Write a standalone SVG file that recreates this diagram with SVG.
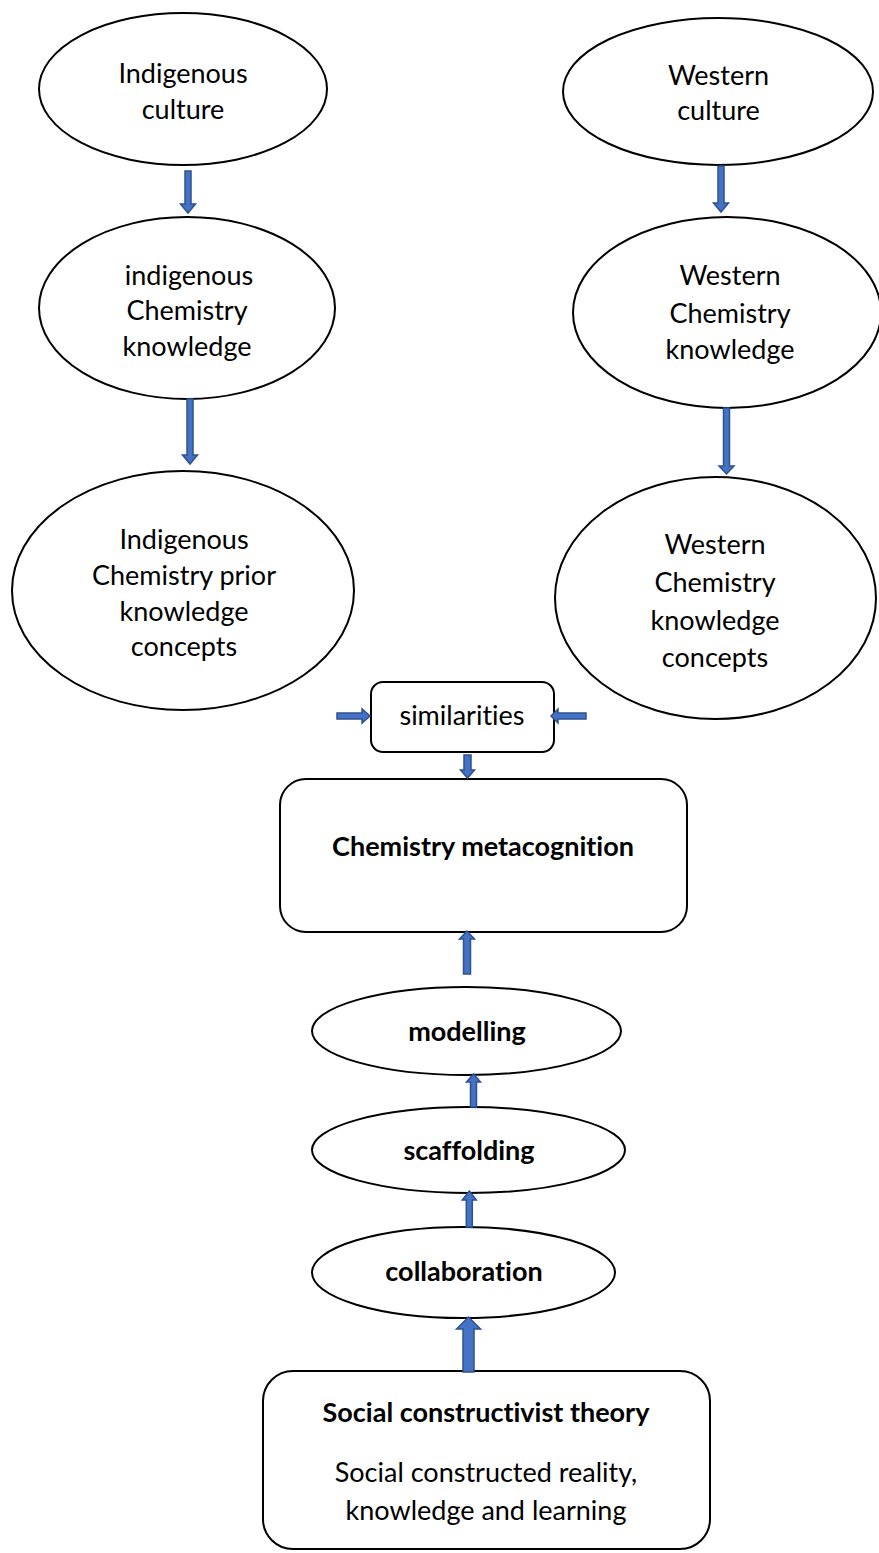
<svg xmlns="http://www.w3.org/2000/svg" width="879" height="1553" viewBox="0 0 879 1553">
<style>
.n{fill:#fff;stroke:#000;stroke-width:2}
.t{font-family:Lato,"Liberation Sans",sans-serif;font-size:27px;fill:#000;text-anchor:middle;font-variant-ligatures:none;font-feature-settings:"liga" 0,"dlig" 0}
.b{font-weight:bold}
.a{fill:#4472C4;stroke:#2F528F;stroke-width:1.5;stroke-linejoin:miter}
</style>
<rect width="879" height="1553" fill="#fff"/>
<g id="indigenous-culture"><ellipse class="n" cx="183" cy="89" rx="144" ry="76"/><text class="t" x="183" y="82.5">Indigenous</text><text class="t" x="183" y="118.5">culture</text></g>
<g id="western-culture"><ellipse class="n" cx="718" cy="91.5" rx="155" ry="73.5"/><text class="t" x="718.5" y="85">Western</text><text class="t" x="718.5" y="120">culture</text></g>
<g id="indigenous-chemistry-knowledge"><ellipse class="n" cx="187" cy="308" rx="148" ry="91"/><text class="t" x="189" y="284.5">indigenous</text><text class="t" x="187" y="320">Chemistry</text><text class="t" x="187" y="355.5">knowledge</text></g>
<g id="western-chemistry-knowledge"><ellipse class="n" cx="727" cy="312.5" rx="154" ry="95.5"/><text class="t" x="730" y="285">Western</text><text class="t" x="730" y="323">Chemistry</text><text class="t" x="730" y="359">knowledge</text></g>
<g id="indigenous-prior-concepts"><ellipse class="n" cx="183" cy="590.5" rx="171" ry="119.5"/><text class="t" x="184" y="549">Indigenous</text><text class="t" x="184" y="585">Chemistry prior</text><text class="t" x="184" y="620.5">knowledge</text><text class="t" x="184" y="656">concepts</text></g>
<g id="western-concepts"><ellipse class="n" cx="715.5" cy="598" rx="160.5" ry="121"/><text class="t" x="715" y="553.5">Western</text><text class="t" x="715" y="591.5">Chemistry</text><text class="t" x="715" y="629.5">knowledge</text><text class="t" x="715" y="667">concepts</text></g>
<g id="similarities"><rect class="n" x="371" y="682" width="183" height="70" rx="12"/><text class="t" x="462" y="725">similarities</text></g>
<g id="chemistry-metacognition"><rect class="n" x="280" y="779" width="407" height="153" rx="26"/><text class="t b" x="483" y="855.5">Chemistry metacognition</text></g>
<g id="modelling"><ellipse class="n" cx="466.5" cy="1031" rx="154.5" ry="44"/><text class="t b" x="467" y="1040.5">modelling</text></g>
<g id="scaffolding"><ellipse class="n" cx="468.5" cy="1150" rx="156.5" ry="43"/><text class="t b" x="469" y="1160">scaffolding</text></g>
<g id="collaboration"><ellipse class="n" cx="463.5" cy="1272.5" rx="151.5" ry="45.5"/><text class="t b" x="464" y="1280.5">collaboration</text></g>
<g id="social-constructivist-theory"><rect class="n" x="263" y="1371" width="447" height="178" rx="30"/><text class="t b" x="486" y="1422">Social constructivist theory</text><text class="t" x="486" y="1481.5">Social constructed reality,</text><text class="t" x="486" y="1519.5">knowledge and learning</text></g>
<g id="connectors">
<path class="a" d="M185,171 H191 V204 H195.5 L188,213 L180.5,204 H185 Z"/>
<path class="a" d="M718,166 H724 V203 H728.5 L721,212 L713.5,203 H718 Z"/>
<path class="a" d="M187,399 H193 V455 H197.5 L190,464 L182.5,455 H187 Z"/>
<path class="a" d="M723.5,408 H729.5 V466 H734 L726.5,474 L719,466 H723.5 Z"/>
<path class="a" d="M337,713 V719 H362 V723 L370,716 L362,709 V713 Z"/>
<path class="a" d="M586,713 V719 H558 V723 L551,716 L558,709 V713 Z"/>
<path class="a" d="M464,755 H471 V770 H474.5 L467.5,778 L460.5,770 H464 Z"/>
<path class="a" d="M463.5,974 H470.5 V939 H474.5 L467,931 L459.5,939 H463.5 Z"/>
<path class="a" d="M470.5,1107 H476.5 V1082 H480.5 L473.5,1074 L466.5,1082 H470.5 Z"/>
<path class="a" d="M466.3,1227 H472.3 V1200 H476.3 L469.3,1191 L462.3,1200 H466.3 Z"/>
<path class="a" d="M463,1372 H474 V1329 H480.5 L468.5,1317 L456.5,1329 H463 Z"/>
</g>
</svg>
